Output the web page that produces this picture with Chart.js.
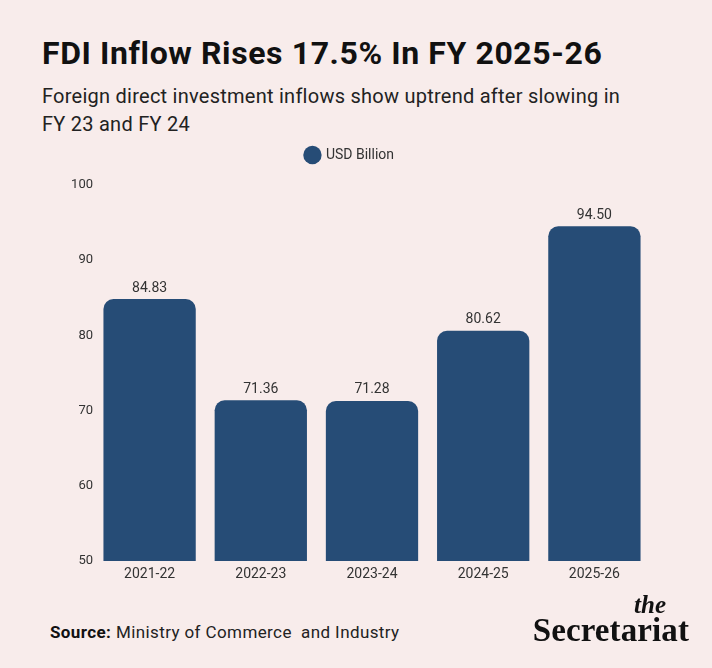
<!DOCTYPE html>
<html>
<head>
<meta charset="utf-8">
<script src="https://cdn.jsdelivr.net/npm/chart.js@4"></script>
<style>
  html, body { margin: 0; padding: 0; }
  body { width: 712px; height: 668px; background: #f8eceb; position: relative; overflow: hidden; font-family: Roboto, sans-serif; color: #111; }
  #title { position: absolute; left: 42px; top: 34px; font-size: 32px; font-weight: 700; letter-spacing: 0.6px; }
  #sub { position: absolute; left: 42px; top: 82px; width: 592px; font-size: 20px; line-height: 28px; letter-spacing: 0.25px; color: #222; }
  #wrap { position: absolute; left: 0; top: 134px; width: 712px; height: 466px; }
  #source { position: absolute; left: 50px; top: 622px; font-size: 17px; letter-spacing: 0.4px; color: #222; }
  #source b { color: #111; }
  #logo { position: absolute; right: 23px; top: 595px; text-align: right; font-family: "Liberation Serif", serif; color: #111; }
  #logo .the { font-style: italic; font-weight: 700; font-size: 25px; line-height: 20px; padding-right: 23px; }
  #logo .sec { font-weight: 700; font-size: 33px; line-height: 31px; letter-spacing: 0.1px; }
</style>
</head>
<body>
<div id="title">FDI Inflow Rises 17.5% In FY 2025-26</div>
<div id="sub">Foreign direct investment inflows show uptrend after slowing in FY 23 and FY 24</div>
<div id="wrap"><canvas id="fdiChart"></canvas></div>
<div id="source"><b>Source:</b> Ministry of Commerce&nbsp; and Industry</div>
<div id="logo"><div class="the">the</div><div class="sec">Secretariat</div></div>

<script>
// data
var years = ["2021-22", "2022-23", "2023-24", "2024-25", "2025-26"];
var fdiUsdBn = [84.83, 71.36, 71.28, 80.62, 94.50];
var yTicks = [50, 60, 70, 80, 90, 100];

var barBlue = "#264c76";

// value labels on top of each bar
var valueLabels = {
  id: "valueLabels",
  afterDatasetsDraw: function(chart) {
    var ctx = chart.ctx;
    var meta = chart.getDatasetMeta(0);
    ctx.save();
    ctx.font = "14px Roboto";
    ctx.fillStyle = "#333";
    ctx.textAlign = "center";
    ctx.textBaseline = "bottom";
    meta.data.forEach(function(bar, i) {
      ctx.fillText(fdiUsdBn[i].toFixed(2), bar.x, bar.y - 4);
    });
    ctx.restore();
  }
};

// extra gap under the legend
var legendGap = {
  id: "legendGap",
  beforeInit: function(chart) {
    var origFit = chart.legend.fit;
    chart.legend.fit = function() {
      origFit.bind(chart.legend)();
      this.height += 13;
    };
  }
};

var ctx = document.getElementById("fdiChart").getContext("2d");

var fdiChart = new Chart(ctx, {
  type: "bar",
  data: {
    labels: years,
    datasets: [{
      label: "USD Billion",
      data: fdiUsdBn,
      backgroundColor: barBlue,
      borderRadius: { topLeft: 10, topRight: 10 },
      borderSkipped: "bottom",
      barPercentage: 0.83,
      categoryPercentage: 1
    }]
  },
  options: {
    responsive: true,
    maintainAspectRatio: false,
    animation: false,
    layout: { padding: { top: 4, right: 62, bottom: 0, left: 50 } },
    plugins: {
      legend: {
        display: true,
        position: "top",
        labels: {
          usePointStyle: true,
          pointStyle: "circle",
          boxWidth: 13,
          boxHeight: 13,
          color: "#333",
          font: { family: "Roboto", size: 14 },
          padding: 10
        }
      },
      tooltip: { enabled: false }
    },
    scales: {
      x: {
        grid: { display: false, drawTicks: false, tickLength: 0 },
        border: { display: false },
        ticks: { color: "#333", font: { family: "Roboto", size: 14 }, padding: 5 },
        afterFit: function(scale) { scale.height = 39; }
      },
      y: {
        min: 50,
        max: 100,
        grid: { display: false, drawTicks: false, tickLength: 0 },
        border: { display: false },
        afterBuildTicks: function(scale) {
          scale.ticks = yTicks.map(function(v) { return { value: v }; });
        },
        ticks: { color: "#333", font: { family: "Roboto", size: 13 }, padding: 1 },
        afterFit: function(scale) { scale.width = 44; }
      }
    }
  },
  plugins: [valueLabels, legendGap]
});
</script>
</body>
</html>
